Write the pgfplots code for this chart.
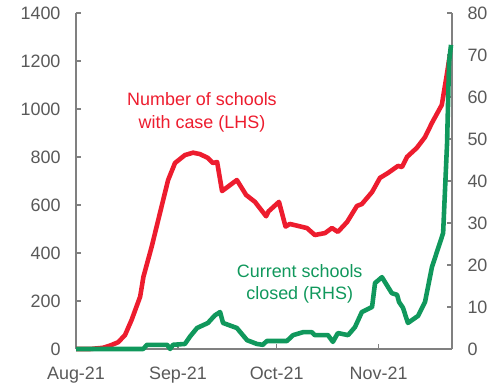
\documentclass[border=0pt]{standalone}
\usepackage{fontspec}
\setmainfont{Liberation Sans}
\usepackage{pgfplots}
\pgfplotsset{compat=1.18}
\definecolor{redc}{RGB}{237,28,46}
\definecolor{greenc}{RGB}{16,152,92}
\definecolor{axgray}{RGB}{128,128,128}
\definecolor{txtgray}{RGB}{89,89,89}
\begin{document}
\begin{tikzpicture}
\pgfplotsset{
  every axis/.append style={
    scale only axis, width=376bp, height=336bp,
    xmin=0, xmax=114.3,
    axis line style={axgray, line width=1.5pt, -},
    tick style={axgray, line width=1.2pt},
    tick align=inside,
    major tick length=5bp,
    tick label style={font=\fontsize{18}{20}\selectfont, text=txtgray},
    /pgf/number format/assume math mode=true,
    clip=false,
  }
}
\begin{axis}[name=ax,
  axis y line*=left, axis x line*=bottom,
  ymin=0, ymax=1400, ytick={0,200,...,1400},
  xtick={0,31,61,92}, xticklabels={Aug-21,Sep-21,Oct-21,Nov-21},
  /pgf/number format/1000 sep={},
  yticklabel style={xshift=-12bp},
  xticklabel style={yshift=-14bp},
]
\addplot[redc, line width=4.6pt, line join=round] coordinates {
(0,0) (4.3,0) (8.2,5) (10.3,14) (12.8,28) (14.9,58) (16.9,121) (19.5,218)
(20.5,301) (23,426) (26,593) (28,704) (30.1,775) (33.1,808) (35.6,818)
(37.7,812) (40.1,796) (41.6,775) (42.9,779) (44.4,658) (48.9,704) (51.7,642)
(54.4,613) (57.8,553) (58.5,573) (61.7,613) (63.7,510) (65,521) (70.2,504)
(72.6,475) (75.7,483) (77.8,504) (79.6,488) (82.4,529) (85.4,596) (86.9,604)
(90,654) (92.4,713) (94.8,733) (97.9,763) (99.1,758) (100.6,800) (103.6,838)
(106.1,883) (108.2,942) (111.2,1017) (112.8,1150) (113.6,1220)
};
\node[text=redc, align=center, font=\fontsize{18}{23}\selectfont] at (axis cs:38.3,987) {Number of schools\\with case (LHS)};
\end{axis}
\begin{axis}[
  axis y line*=right, axis x line=none,
  ymin=0, ymax=80, ytick={0,10,...,80},
  yticklabel style={xshift=12bp},
]
\addplot[greenc, line width=4.6pt, line join=round] coordinates {
(0,0) (20.4,0) (21.6,1) (27.7,1) (28.6,0) (29.5,1) (33.1,1.2) (34.7,3)
(36.8,5) (40.1,6.2) (42.2,8) (43.8,8.8) (44.7,6.2) (48.9,5) (52,2.1)
(55,1.2) (56.8,1) (58,1.9) (64.1,1.9) (66,3.3) (69,4) (71.7,4) (72.6,3.3)
(76.6,3.3) (78.1,1.7) (79.6,3.8) (82.7,3.3) (84.8,5.2) (86.9,8.8) (90,10)
(90.9,15.7) (93,17.1) (96,13.3) (97.6,12.9) (98.2,11.2) (99.4,9.8) (100.9,6.2)
(104,7.9) (106.1,11.2) (108.2,19.5) (111.6,27.6) (112.8,49) (113.4,68.3) (114,72.4)
};
\node[text=greenc, align=center, font=\fontsize{18}{23}\selectfont] at (axis cs:68,15.5) {Current schools\\closed (RHS)};
\end{axis}
\pgfresetboundingbox
\path ([xshift=-76bp,yshift=-34bp]ax.south west) rectangle ([xshift=50bp,yshift=13bp]ax.north east);
\end{tikzpicture}
\end{document}
